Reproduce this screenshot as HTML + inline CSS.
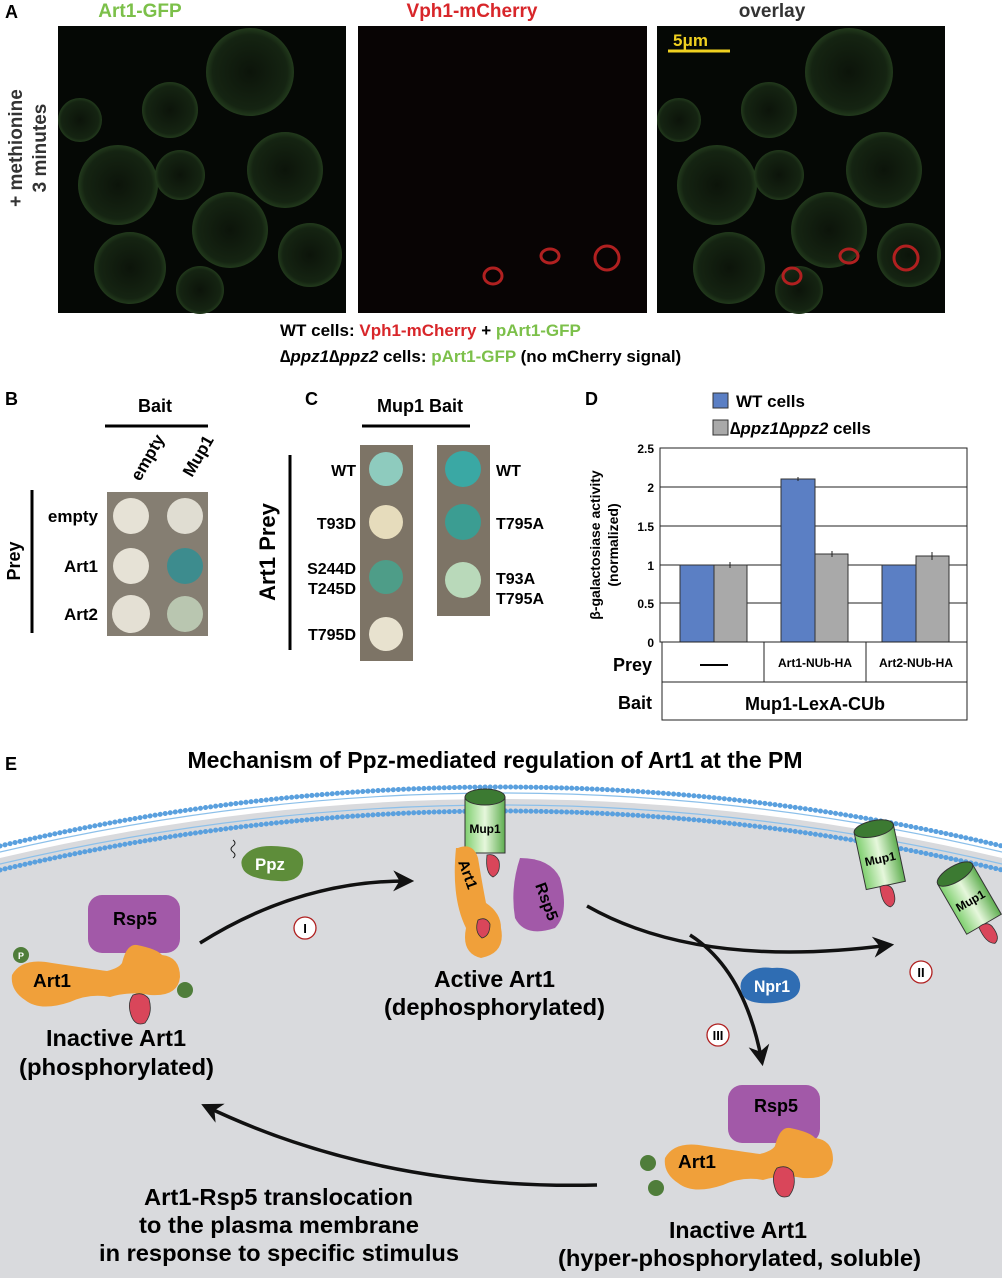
<!DOCTYPE html>
<html><head><meta charset="utf-8"><style>
html,body{margin:0;padding:0;background:#fff;width:1002px;height:1280px;overflow:hidden}
svg{display:block}
text{font-family:"Liberation Sans",Arial,sans-serif;font-weight:bold}
</style></head><body>
<svg width="1002" height="1280" viewBox="0 0 1002 1280" xmlns="http://www.w3.org/2000/svg">
<defs>
<radialGradient id="gc" cx="50%" cy="50%" r="50%"><stop offset="0" stop-color="#0c140a"/><stop offset="0.85" stop-color="#152412"/><stop offset="1" stop-color="#223a1c"/></radialGradient>
<linearGradient id="cyl" x1="0" x2="1"><stop offset="0" stop-color="#7fcf6f"/><stop offset="0.5" stop-color="#e6f7dc"/><stop offset="1" stop-color="#5fae50"/></linearGradient>
<marker id="ah" viewBox="0 0 10 10" refX="8" refY="5" markerWidth="6" markerHeight="6" orient="auto"><path d="M0,0 L10,5 L0,10 L3,5z" fill="#111"/></marker>
</defs>

<text x="5" y="18" font-size="18">A</text>
<text x="140" y="17" font-size="19" fill="#7cc04a" text-anchor="middle">Art1-GFP</text>
<text x="472" y="17" font-size="19" fill="#d8262a" text-anchor="middle">Vph1-mCherry</text>
<text x="772" y="17" font-size="19" fill="#333" text-anchor="middle">overlay</text>
<text transform="translate(22,148) rotate(-90)" font-size="19" text-anchor="middle" fill="#333">+ methionine</text>
<text transform="translate(46,148) rotate(-90)" font-size="19" text-anchor="middle" fill="#333">3 minutes</text>

<rect x="58" y="26" width="288" height="287" fill="#050805"/>
<rect x="358" y="26" width="289" height="287" fill="#080404"/>
<rect x="657" y="26" width="288" height="287" fill="#050805"/>
<g id="cells">
<circle cx="250" cy="72" r="44" fill="url(#gc)"/>
<circle cx="170" cy="110" r="28" fill="url(#gc)"/>
<circle cx="118" cy="185" r="40" fill="url(#gc)"/>
<circle cx="180" cy="175" r="25" fill="url(#gc)"/>
<circle cx="285" cy="170" r="38" fill="url(#gc)"/>
<circle cx="230" cy="230" r="38" fill="url(#gc)"/>
<circle cx="130" cy="268" r="36" fill="url(#gc)"/>
<circle cx="310" cy="255" r="32" fill="url(#gc)"/>
<circle cx="200" cy="290" r="24" fill="url(#gc)"/>
<circle cx="80" cy="120" r="22" fill="url(#gc)"/>
</g>
<use href="#cells" x="599"/>
<g fill="none" stroke="#b02020" stroke-width="3">
<ellipse cx="493" cy="276" rx="9" ry="8"/><ellipse cx="550" cy="256" rx="9" ry="7"/><circle cx="607" cy="258" r="12"/>
<ellipse cx="792" cy="276" rx="9" ry="8"/><ellipse cx="849" cy="256" rx="9" ry="7"/><circle cx="906" cy="258" r="12"/>
</g>
<line x1="668" y1="51" x2="730" y2="51" stroke="#f0d020" stroke-width="3"/>
<text x="673" y="46" font-size="17" fill="#f0d020">5μm</text>

<text x="280" y="336" font-size="17"><tspan>WT cells: </tspan><tspan fill="#d8262a">Vph1-mCherry</tspan><tspan> + </tspan><tspan fill="#7cc04a">pArt1-GFP</tspan></text>
<text x="280" y="362" font-size="17"><tspan>∆</tspan><tspan font-style="italic">ppz1</tspan><tspan>∆</tspan><tspan font-style="italic">ppz2</tspan><tspan> cells: </tspan><tspan fill="#7cc04a">pArt1-GFP</tspan><tspan> (no mCherry signal)</tspan></text>

<text x="5" y="405" font-size="18">B</text>
<text x="155" y="412" font-size="18" text-anchor="middle">Bait</text>
<line x1="105" y1="426" x2="208" y2="426" stroke="#000" stroke-width="3"/>
<text transform="translate(140,482) rotate(-60)" font-size="17">empty</text>
<text transform="translate(192,478) rotate(-60)" font-size="17">Mup1</text>
<line x1="32" y1="490" x2="32" y2="633" stroke="#000" stroke-width="3"/>
<text transform="translate(20,561) rotate(-90)" font-size="18" text-anchor="middle">Prey</text>
<text x="98" y="522" font-size="17" text-anchor="end">empty</text>
<text x="98" y="572" font-size="17" text-anchor="end">Art1</text>
<text x="98" y="620" font-size="17" text-anchor="end">Art2</text>
<rect x="107" y="492" width="101" height="144" fill="#857e72"/>
<circle cx="131" cy="516" r="18" fill="#e6e2d6"/><circle cx="185" cy="516" r="18" fill="#e0ddd2"/>
<circle cx="131" cy="566" r="18" fill="#e6e2d6"/><circle cx="185" cy="566" r="18" fill="#3d8c8e"/>
<circle cx="131" cy="614" r="19" fill="#e4e0d4"/><circle cx="185" cy="614" r="18" fill="#b9c6b0"/>

<text x="305" y="405" font-size="18">C</text>
<text x="420" y="412" font-size="18" text-anchor="middle">Mup1 Bait</text>
<line x1="362" y1="426" x2="470" y2="426" stroke="#000" stroke-width="3"/>
<text transform="translate(275,552) rotate(-90)" font-size="22" text-anchor="middle">Art1 Prey</text>
<line x1="290" y1="455" x2="290" y2="650" stroke="#000" stroke-width="3"/>
<text x="356" y="476" font-size="16" text-anchor="end">WT</text>
<text x="356" y="529" font-size="16" text-anchor="end">T93D</text>
<text x="356" y="574" font-size="16" text-anchor="end">S244D</text>
<text x="356" y="594" font-size="16" text-anchor="end">T245D</text>
<text x="356" y="640" font-size="16" text-anchor="end">T795D</text>
<rect x="360" y="445" width="53" height="216" fill="#7d7466"/>
<circle cx="386" cy="469" r="17" fill="#8ecbbe"/>
<circle cx="386" cy="522" r="17" fill="#e6dcbc"/>
<circle cx="386" cy="577" r="17" fill="#4e9d88"/>
<circle cx="386" cy="634" r="17" fill="#e8e2cf"/>
<rect x="437" y="445" width="53" height="171" fill="#7d7466"/>
<circle cx="463" cy="469" r="18" fill="#3aa8a4"/>
<circle cx="463" cy="522" r="18" fill="#3b9d92"/>
<circle cx="463" cy="580" r="18" fill="#b9d9ba"/>
<text x="496" y="476" font-size="16">WT</text>
<text x="496" y="529" font-size="16">T795A</text>
<text x="496" y="584" font-size="16">T93A</text>
<text x="496" y="604" font-size="16">T795A</text>

<text x="585" y="405" font-size="18">D</text>
<rect x="713" y="393" width="15" height="15" fill="#5b7fc4" stroke="#333"/>
<text x="736" y="407" font-size="17">WT cells</text>
<rect x="713" y="420" width="15" height="15" fill="#a9a9a9" stroke="#333"/>
<text x="730" y="434" font-size="17">∆<tspan font-style="italic">ppz1</tspan>∆<tspan font-style="italic">ppz2</tspan> cells</text>
<g stroke="#222" stroke-width="1">
<line x1="660" y1="487" x2="967" y2="487"/><line x1="660" y1="526" x2="967" y2="526"/>
<line x1="660" y1="565" x2="967" y2="565"/><line x1="660" y1="603" x2="967" y2="603"/>
<rect x="660" y="448" width="307" height="194" fill="none"/>
</g>
<g font-size="12" text-anchor="end">
<text x="654" y="453">2.5</text><text x="654" y="492">2</text><text x="654" y="531">1.5</text>
<text x="654" y="570">1</text><text x="654" y="608">0.5</text><text x="654" y="647">0</text></g>
<text transform="translate(600,545) rotate(-90)" font-size="14" text-anchor="middle">β-galactosiase activity</text>
<text transform="translate(618,545) rotate(-90)" font-size="14" text-anchor="middle">(normalized)</text>
<g stroke="#333" stroke-width="1">
<rect x="680" y="565" width="34" height="77" fill="#5b7fc4"/>
<rect x="714" y="565" width="33" height="77" fill="#a9a9a9"/>
<rect x="781" y="479" width="34" height="163" fill="#5b7fc4"/>
<rect x="815" y="554" width="33" height="88" fill="#a9a9a9"/>
<rect x="882" y="565" width="34" height="77" fill="#5b7fc4"/>
<rect x="916" y="556" width="33" height="86" fill="#a9a9a9"/>
</g>
<g stroke="#222" stroke-width="1">
<line x1="730" y1="562" x2="730" y2="568"/><line x1="832" y1="551" x2="832" y2="557"/><line x1="932" y1="552" x2="932" y2="560"/>
<line x1="798" y1="477" x2="798" y2="481"/></g>
<g stroke="#222" stroke-width="1" fill="none">
<rect x="662" y="642" width="305" height="78"/>
<line x1="662" y1="682" x2="967" y2="682"/>
<line x1="764" y1="642" x2="764" y2="682"/><line x1="866" y1="642" x2="866" y2="682"/>
</g>
<text x="652" y="671" font-size="18" text-anchor="end">Prey</text>
<text x="652" y="709" font-size="18" text-anchor="end">Bait</text>
<line x1="700" y1="665" x2="728" y2="665" stroke="#000" stroke-width="2"/>
<text x="815" y="667" font-size="12" text-anchor="middle">Art1-NUb-HA</text>
<text x="916" y="667" font-size="12" text-anchor="middle">Art2-NUb-HA</text>
<text x="815" y="710" font-size="18" text-anchor="middle">Mup1-LexA-CUb</text>

<text x="5" y="770" font-size="18">E</text>
<text x="495" y="768" font-size="23" text-anchor="middle">Mechanism of Ppz-mediated regulation of Art1 at the PM</text>
<path d="M0,858 Q501,740 1002,858 L1002,1278 L0,1278z" fill="#d9dadd"/>
<g fill="none" stroke-linecap="round">
<path d="M0,846 Q501,728 1002,846" stroke="#5aa0de" stroke-width="5" stroke-dasharray="0.1 5"/>
<path d="M0,870 Q501,752 1002,870" stroke="#5aa0de" stroke-width="5" stroke-dasharray="0.1 5"/>
<path d="M0,852 Q501,734 1002,852" stroke="#8cc0ea" stroke-width="1.2"/>
<path d="M0,864 Q501,746 1002,864" stroke="#8cc0ea" stroke-width="1.2"/>
</g>

<g fill="none" stroke="#111" stroke-width="3.5">
<path d="M200,943 Q300,880 410,881" marker-end="url(#ah)"/>
<path d="M587,906 Q700,970 890,945" marker-end="url(#ah)"/>
<path d="M690,935 Q745,970 762,1062" marker-end="url(#ah)"/>
<path d="M597,1185 Q380,1190 205,1106" marker-end="url(#ah)"/>
</g>
<g fill="#fff" stroke="#b02020" stroke-width="1.3">
<circle cx="305" cy="928" r="11"/><circle cx="921" cy="972" r="11"/><circle cx="718" cy="1035" r="11"/>
</g>
<g font-size="13" text-anchor="middle" font-family="Liberation Serif"><text x="305" y="933">I</text><text x="921" y="977">II</text><text x="718" y="1040">III</text></g>

<path d="M233,840 q4,3 0,6 q-4,3 0,6 q4,3 0,6" stroke="#222" fill="none"/>
<path d="M245,855 q10,-12 40,-8 q20,2 18,18 q-2,18 -25,16 q-30,-2 -35,-12 q-4,-8 2,-14z" fill="#5e8d3a"/>
<text x="255" y="870" font-size="17" fill="#fff" textLength="30" lengthAdjust="spacingAndGlyphs">Ppz</text>

<rect x="88" y="895" width="92" height="58" rx="14" fill="#a259a8"/>
<text x="113" y="925" font-size="18" textLength="44" lengthAdjust="spacingAndGlyphs">Rsp5</text>
<path d="M12,975 q10,-18 40,-12 q40,6 55,8 q12,-3 15,-8 q5,-20 15,-18 q20,4 25,10 q18,2 18,22 q-2,20 -30,18 q-20,-4 -40,2 q-20,-4 -40,5 q-30,10 -45,-2 q-15,-10 -13,-25z" fill="#f0a03a"/>
<text x="33" y="987" font-size="18" textLength="38" lengthAdjust="spacingAndGlyphs">Art1</text>
<circle cx="21" cy="955" r="8" fill="#4f7d3a"/><text x="21" y="959" font-size="9" fill="#fff" text-anchor="middle">P</text>
<circle cx="185" cy="990" r="8" fill="#4f7d3a"/>
<path d="M133,995 q10,-4 16,4 q4,14 -4,24 q-10,4 -14,-8 q-4,-12 2,-20z" fill="#d9465a" stroke="#333" stroke-width="0.8"/>
<text x="46" y="1046" font-size="23" textLength="140" lengthAdjust="spacingAndGlyphs">Inactive Art1</text>
<text x="19" y="1075" font-size="23" textLength="195" lengthAdjust="spacingAndGlyphs">(phosphorylated)</text>

<rect x="465" y="797" width="40" height="56" fill="url(#cyl)" stroke="#333"/>
<ellipse cx="485" cy="797" rx="20" ry="8" fill="#3c7a32" stroke="#333"/>
<text x="485" y="833" font-size="12" text-anchor="middle">Mup1</text>
<path d="M458,848 q15,-6 20,10 q5,30 8,45 q15,10 15,25 q5,25 -20,30 q-20,-5 -15,-30 q-15,-30 -10,-80z" fill="#f0a03a"/>
<path d="M520,858 q30,0 40,20 q10,35 -5,50 q-30,10 -40,-10 q-5,-30 5,-60z" fill="#a259a8"/>
<text transform="translate(535,885) rotate(70)" font-size="16">Rsp5</text>
<text transform="translate(458,862) rotate(70)" font-size="15">Art1</text>
<path d="M487,855 q8,-2 12,6 q2,12 -6,16 q-8,-4 -6,-22z" fill="#d9465a" stroke="#333" stroke-width="0.8"/>
<path d="M478,920 q8,-4 12,4 q0,12 -8,14 q-8,-6 -4,-18z" fill="#d9465a" stroke="#333" stroke-width="0.8"/>
<text x="434" y="987" font-size="23" textLength="121" lengthAdjust="spacingAndGlyphs">Active Art1</text>
<text x="384" y="1015" font-size="23" textLength="221" lengthAdjust="spacingAndGlyphs">(dephosphorylated)</text>

<path d="M742,980 q10,-15 30,-12 q25,-2 28,15 q2,18 -25,20 q-30,2 -33,-10 q-3,-7 0,-13z" fill="#2f6db3"/>
<text x="754" y="992" font-size="17" fill="#fff" textLength="36" lengthAdjust="spacingAndGlyphs">Npr1</text>

<g transform="translate(880,858) rotate(-12)">
<rect x="-20" y="-30" width="40" height="58" fill="url(#cyl)" stroke="#333"/>
<ellipse cx="0" cy="-30" rx="20" ry="8" fill="#3c7a32" stroke="#333"/>
<text x="0" y="5" font-size="12" text-anchor="middle">Mup1</text>
<path d="M-6,28 q10,-2 12,6 q2,14 -6,16 q-8,-4 -6,-22z" fill="#d9465a" stroke="#333" stroke-width="0.8"/>
</g>
<g transform="translate(970,900) rotate(-30)">
<rect x="-20" y="-30" width="40" height="58" fill="url(#cyl)" stroke="#333"/>
<ellipse cx="0" cy="-30" rx="20" ry="8" fill="#3c7a32" stroke="#333"/>
<text x="0" y="5" font-size="12" text-anchor="middle">Mup1</text>
<path d="M-6,28 q10,-2 12,6 q2,14 -6,16 q-8,-4 -6,-22z" fill="#d9465a" stroke="#333" stroke-width="0.8"/>
</g>

<rect x="728" y="1085" width="92" height="58" rx="14" fill="#a259a8"/>
<text x="754" y="1112" font-size="18" textLength="44" lengthAdjust="spacingAndGlyphs">Rsp5</text>
<path d="M665,1158 q10,-18 40,-12 q40,6 55,8 q12,-3 15,-8 q5,-20 15,-18 q20,4 25,10 q18,2 18,22 q-2,20 -30,18 q-20,-4 -40,2 q-20,-4 -40,5 q-30,10 -45,-2 q-15,-10 -13,-25z" fill="#f0a03a"/>
<text x="678" y="1168" font-size="18" textLength="38" lengthAdjust="spacingAndGlyphs">Art1</text>
<circle cx="648" cy="1163" r="8" fill="#4f7d3a"/><circle cx="656" cy="1188" r="8" fill="#4f7d3a"/>
<path d="M777,1168 q10,-4 16,4 q4,14 -4,24 q-10,4 -14,-8 q-4,-12 2,-20z" fill="#d9465a" stroke="#333" stroke-width="0.8"/>
<text x="669" y="1238" font-size="23" textLength="138" lengthAdjust="spacingAndGlyphs">Inactive Art1</text>
<text x="558" y="1266" font-size="23" textLength="363" lengthAdjust="spacingAndGlyphs">(hyper-phosphorylated, soluble)</text>

<text x="144" y="1205" font-size="23" textLength="269" lengthAdjust="spacingAndGlyphs">Art1-Rsp5 translocation</text>
<text x="139" y="1233" font-size="23" textLength="280" lengthAdjust="spacingAndGlyphs">to the plasma membrane</text>
<text x="99" y="1261" font-size="23" textLength="360" lengthAdjust="spacingAndGlyphs">in response to specific stimulus</text>
</svg>
</body></html>
